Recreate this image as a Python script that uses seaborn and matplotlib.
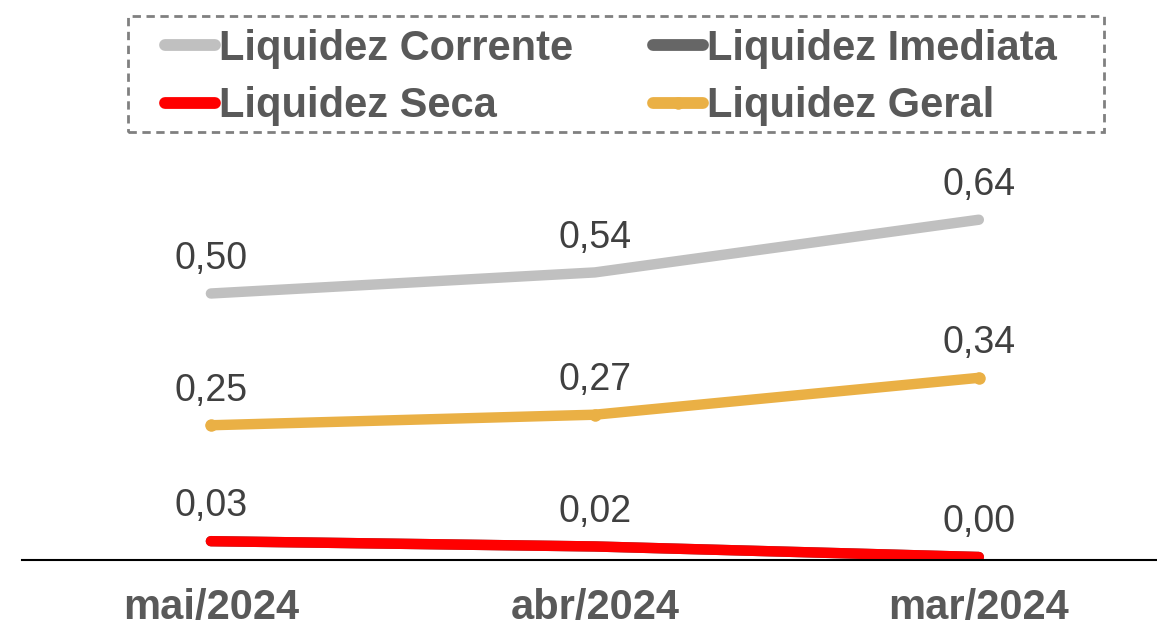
import matplotlib
matplotlib.use("Agg")
import matplotlib.pyplot as plt
import seaborn as sns
import pandas as pd
from matplotlib.lines import Line2D
from matplotlib.patches import Rectangle

categories = ["mai/2024", "abr/2024", "mar/2024"]
corrente = [0.50, 0.54, 0.64]
imediata = [0.03, 0.02, 0.00]
seca = [0.03, 0.02, 0.00]
geral = [0.25, 0.27, 0.34]

series_names = ["Liquidez Corrente", "Liquidez Imediata", "Liquidez Seca", "Liquidez Geral"]
series_values = [corrente, imediata, seca, geral]
colors = {"Liquidez Corrente": "#C0C0C0", "Liquidez Imediata": "#666666",
          "Liquidez Seca": "#FF0000", "Liquidez Geral": "#EAB045"}

sns.set_theme(style="white")
plt.rcParams['font.family'] = ['Liberation Sans', 'DejaVu Sans']

W, H = 1157, 629
fig = plt.figure(figsize=(W / 100, H / 100), dpi=100)
ax = fig.add_axes([0.019, 1 - 560 / H, 0.981, (560 - 140) / H])

for name, vals in zip(series_names, series_values):
    df = pd.DataFrame({"x": categories, "y": vals})
    kw = {}
    if name == "Liquidez Geral":
        kw = dict(marker="o", markersize=9, markeredgewidth=0)
    sns.lineplot(data=df, x="x", y="y", ax=ax, color=colors[name], linewidth=7.5,
                 sort=False, solid_capstyle="round", **kw)

label_series = [corrente, geral, seca]
for vals in label_series:
    for i, v in enumerate(vals):
        ax.annotate(f"{v:.2f}".replace(".", ","), (i, v), xytext=(0, 25),
                    textcoords="offset points", ha="center", va="center",
                    fontsize=27, color="#404040")

ax.set_xlim(-0.492, 2.464)
ax.set_ylim(-3 / 527, (557 - 140) / 527)
ax.set_xlabel("")
ax.set_ylabel("")
ax.set_yticks([])
ax.set_xticks(range(len(categories)))
ax.set_xticklabels(categories, fontsize=30, fontweight="bold", color="#595959")
ax.tick_params(axis="x", length=0, pad=20)
for s in ["top", "left", "right"]:
    ax.spines[s].set_visible(False)
ax.spines["bottom"].set_color("black")
ax.spines["bottom"].set_linewidth(1.5)

handles = {}
for name in series_names:
    if name == "Liquidez Geral":
        handles[name] = Line2D([], [], color=colors[name], lw=8.5, marker="o", markersize=9,
                               markeredgewidth=0, solid_capstyle="round")
    else:
        handles[name] = Line2D([], [], color=colors[name], lw=8.5, solid_capstyle="round")
order = ["Liquidez Corrente", "Liquidez Seca", "Liquidez Imediata", "Liquidez Geral"]
leg = fig.legend([handles[n] for n in order], order, ncol=2, loc="center",
                 bbox_to_anchor=(611 / W, 1 - 77.5 / H), frameon=False,
                 prop={"size": 30, "weight": "bold"}, handlelength=1.2,
                 handletextpad=0.08, columnspacing=1.93, labelspacing=0.42,
                 borderpad=0.0, borderaxespad=0)
for t in leg.get_texts():
    t.set_color("#595959")

box = Rectangle((128 / W, 1 - 132 / H), (1104 - 128) / W, (132 - 16) / H,
                transform=fig.transFigure, fill=False, edgecolor="#808080",
                linestyle=(0, (3, 2)), linewidth=2)
fig.add_artist(box)

fig.savefig("out.png", dpi=100)
